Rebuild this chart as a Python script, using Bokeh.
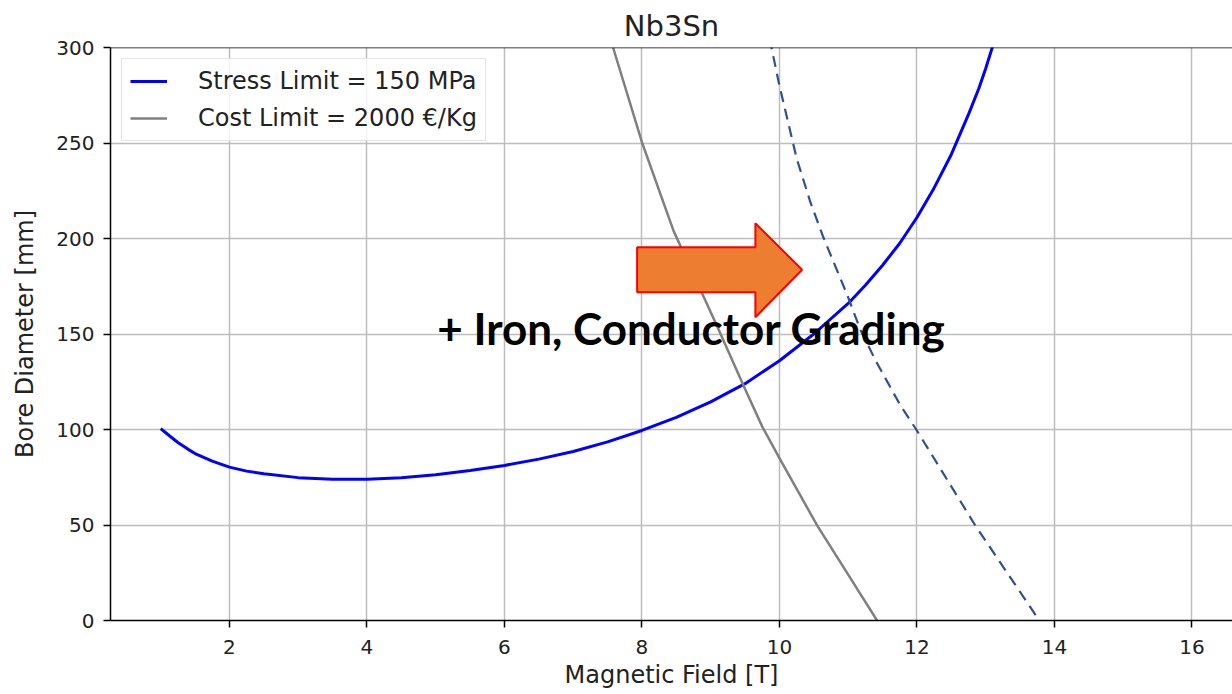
from bokeh.plotting import figure
from bokeh.models import Range1d, FixedTicker, Label, Span, Legend, LegendItem
from bokeh.embed import file_html
from bokeh.resources import INLINE

# ---- data ----
stress_x = [1.0, 1.1, 1.25, 1.4, 1.5, 1.75, 2.0, 2.25, 2.5, 3.0, 3.5, 4.0, 4.5, 5.0, 5.5,
            6.0, 6.5, 7.0, 7.5, 8.0, 8.5, 9.0, 9.5, 10.0, 10.5, 11.0, 11.25, 11.5, 11.75,
            12.0, 12.25, 12.5, 12.75, 12.9, 13.0, 13.1]
stress_y = [100.5, 97.5, 93.2, 89.6, 87.4, 83.4, 80.3, 78.2, 76.8, 74.8, 74.0, 74.0, 74.8,
            76.3, 78.5, 81.2, 84.5, 88.5, 93.5, 99.5, 106.3, 114.5, 124.0, 136.0, 150.0,
            166.0, 175.5, 186.0, 197.5, 211.0, 226.5, 244.0, 265.0, 278.5, 289.0, 300.5]

cost_x = [7.58, 8.0, 8.46, 8.79, 9.12, 9.49, 9.75, 10.0, 10.55, 11.0, 11.42]
cost_y = [300.0, 250.4, 204.0, 178.0, 152.0, 122.0, 101.5, 85.0, 49.7, 24.0, 0.0]

improved_x = [9.855, 9.884, 10.0, 10.25, 10.45, 10.64, 10.98, 11.18, 11.4, 11.76, 11.99,
              12.85, 13.78, 13.82]
improved_y = [304.7, 300.0, 280.0, 242.0, 219.0, 200.5, 171.0, 152.0, 136.0, 112.6, 100.0,
              49.7, 0.0, -3.5]

arrow_x = [7.93, 9.65, 9.65, 10.33, 9.65, 9.65, 7.93]
arrow_y = [195.4, 195.4, 208.0, 183.6, 158.8, 171.9, 171.9]

x_ticks = [2, 4, 6, 8, 10, 12, 14, 16]
y_ticks = [0, 50, 100, 150, 200, 250, 300]

title_text = "Nb3Sn"
x_label = "Magnetic Field [T]"
y_label = "Bore Diameter [mm]"
stress_label = "Stress Limit = 150 MPa"
cost_label = "Cost Limit = 2000 €/Kg"
note_text = "+ Iron, Conductor Grading"
note_x, note_y = 8.72, 153.0

FONT = "DejaVu Sans"

p = figure(width=1232, height=694, output_backend="svg", toolbar_location=None,
           x_range=Range1d(0.27, 16.59), y_range=Range1d(0, 300),
           min_border_left=110, min_border_right=0, min_border_top=47, min_border_bottom=74)

p.title.text = title_text
p.title.align = "center"
p.title.text_font = FONT
p.title.text_font_size = "29px"
p.title.text_font_style = "normal"
p.title.text_color = "#222222"

p.outline_line_color = None
p.background_fill_color = "white"
p.border_fill_color = "white"

for ax in (p.xaxis[0], p.yaxis[0]):
    ax.axis_line_color = "black"
    ax.axis_line_width = 1.5
    ax.major_tick_line_color = "black"
    ax.major_tick_line_width = 1.5
    ax.major_tick_out = 7
    ax.major_tick_in = 0
    ax.minor_tick_line_color = None
    ax.major_label_text_font = FONT
    ax.major_label_text_font_size = "20px"
    ax.major_label_text_color = "#222222"
    ax.axis_label_text_font = FONT
    ax.axis_label_text_font_size = "24px"
    ax.axis_label_text_font_style = "normal"
    ax.axis_label_text_color = "#222222"

p.xaxis[0].ticker = FixedTicker(ticks=x_ticks)
p.yaxis[0].ticker = FixedTicker(ticks=y_ticks)
p.xaxis[0].axis_label = x_label
p.yaxis[0].axis_label = y_label
p.xaxis[0].major_label_standoff = 12
p.xaxis[0].axis_label_standoff = 4
p.yaxis[0].major_label_standoff = 9
p.yaxis[0].axis_label_standoff = 14

p.xgrid[0].ticker = FixedTicker(ticks=x_ticks)
p.ygrid[0].ticker = FixedTicker(ticks=y_ticks)
for g in (p.xgrid[0], p.ygrid[0]):
    g.grid_line_color = "#bdbdbd"
    g.grid_line_width = 1.5

# top border of the frame (right side is cut off in the reference)
p.add_layout(Span(location=300, dimension="width", line_color="black", line_width=1.5))

r_stress = p.line(stress_x, stress_y, line_color="#0000ff", line_width=3, line_join="round")
r_cost = p.line(cost_x, cost_y, line_color="#808080", line_width=2.5, line_join="round")
p.line(improved_x, improved_y, line_color="#2E5290", line_width=2.2, line_dash="11 7")

p.patch(arrow_x, arrow_y, fill_color="#ED7D31", line_color="#FF0000", line_width=2)

legend = Legend(items=[LegendItem(label=stress_label, renderers=[r_stress]),
                       LegendItem(label=cost_label, renderers=[r_cost])],
                location="top_left")
legend.label_text_font = FONT
legend.label_text_font_size = "24px"
legend.label_text_color = "#222222"
legend.glyph_width = 37
legend.glyph_height = 26
legend.label_standoff = 31
legend.padding = 8
legend.spacing = 9
legend.margin = 11
legend.border_line_color = "#cccccc"
legend.border_line_width = 1.5
legend.background_fill_alpha = 0.8
p.add_layout(legend)

p.add_layout(Label(x=note_x, y=note_y, text=note_text, text_font="Lato",
                   text_font_style="bold", text_font_size="44px", text_color="black",
                   text_align="center", text_baseline="alphabetic"))

open("out.html", "w").write(file_html(p, INLINE))
